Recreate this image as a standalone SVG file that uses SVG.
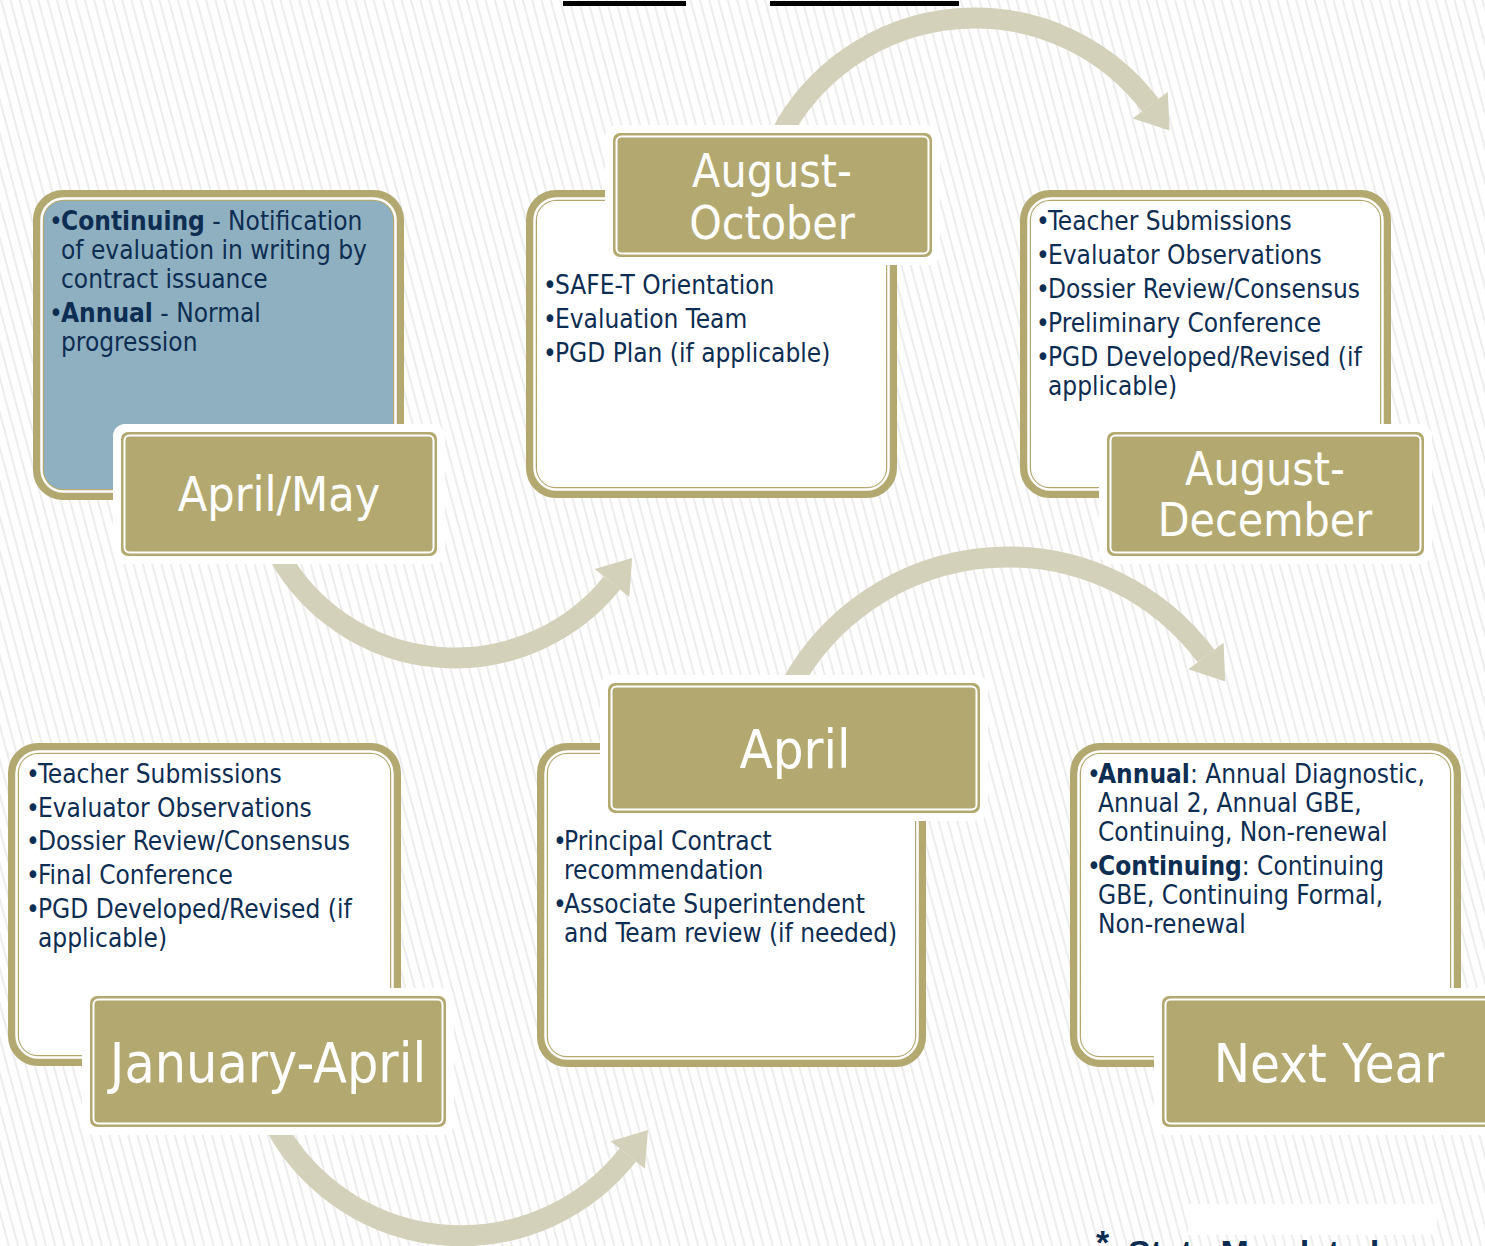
<svg xmlns="http://www.w3.org/2000/svg" width="1485" height="1246" viewBox="0 0 1485 1246">
<style>
.frame{fill:#ffffff;fill-opacity:0.9;stroke:#b3a970;stroke-width:11}
.frameblue{fill:#8fb0c1;stroke:#b3a970;stroke-width:11}
.inner{fill:none;stroke:#ffffff;stroke-width:2.5}
.halo{fill:#ffffff}
.lab{fill:#b3a970}
.labline{fill:none;stroke:#ffffff;stroke-width:2}
.body{font-family:"DejaVu Sans Condensed","DejaVu Sans",sans-serif;font-size:26px;fill:#0e2d52}
.b{font-weight:bold}
.title{font-family:"DejaVu Sans Condensed","DejaVu Sans",sans-serif;fill:#ffffff;text-anchor:middle}
.arc{fill:none;stroke:#d4d1ba;stroke-width:21}
.head{fill:#d4d1ba}
</style>
<defs>
<pattern id="bg" width="9" height="9" patternUnits="userSpaceOnUse" patternTransform="rotate(-15)">
<rect width="9" height="9" fill="#ffffff"/>
<rect width="2" height="9" fill="#ededed"/>
</pattern>
</defs>
<rect width="1485" height="1246" fill="url(#bg)"/>
<rect x="563" y="1" width="123" height="5" fill="#000"/>
<rect x="770" y="1" width="189" height="5" fill="#000"/>

<g id="connectors">
<path class="arc" d="M 280 557 A 202 202 0 0 0 612 583"/>
<polygon class="head" points="629.3,596.9 594.7,569.1 632.2,558"/>
<path class="arc" d="M 780.6 135 A 220 220 0 0 1 1150.3 105.1"/>
<polygon class="head" points="1167.8,91.8 1132.8,118.4 1169.6,130.6"/>
<path class="arc" d="M 791.3 685 A 247.5 247.5 0 0 1 1206 656"/>
<polygon class="head" points="1223.6,642.8 1188.4,669.2 1225.2,681.6"/>
<path class="arc" d="M 270 1115 A 212 212 0 0 0 627.8 1155"/>
<polygon class="head" points="644.9,1168.8 610.7,1141.2 648,1130"/>
</g>

<g id="node-april-may">
<rect class="frameblue" x="38.5" y="195.5" width="360" height="299" rx="24.5"/>
<rect class="inner" x="41.5" y="198.5" width="354" height="293" rx="22"/>
<text class="body" x="49" y="230">•</text>
<text class="body" x="61" y="230"><tspan class="b">Continuing</tspan> - Notification</text>
<text class="body" x="61" y="259">of evaluation in writing by</text>
<text class="body" x="61" y="288">contract issuance</text>
<text class="body" x="49" y="322">•</text>
<text class="body" x="61" y="322"><tspan class="b">Annual</tspan> - Normal</text>
<text class="body" x="61" y="351">progression</text>
<rect class="halo" x="113" y="424" width="332" height="140" rx="12"/>
<rect class="lab" x="121" y="432" width="316" height="124" rx="7"/>
<rect class="labline" x="124.5" y="435.5" width="309" height="117" rx="5"/>
<text class="title" x="279" y="511" font-size="48">April/May</text>
</g>

<g id="node-aug-oct">
<rect class="frame" x="531.5" y="195.5" width="360" height="297" rx="24.5"/>
<rect class="inner" x="534.5" y="198.5" width="354" height="291" rx="22"/>
<text class="body" x="543" y="294">•</text>
<text class="body" x="555" y="294">SAFE-T Orientation</text>
<text class="body" x="543" y="328">•</text>
<text class="body" x="555" y="328">Evaluation Team</text>
<text class="body" x="543" y="362">•</text>
<text class="body" x="555" y="362">PGD Plan (if applicable)</text>
<rect class="halo" x="605" y="125" width="335" height="140" rx="12"/>
<rect class="lab" x="613" y="133" width="319" height="124" rx="7"/>
<rect class="labline" x="616.5" y="136.5" width="312" height="117" rx="5"/>
<text class="title" x="772" y="187" font-size="46">August-</text>
<text class="title" x="772" y="239" font-size="46">October</text>
</g>

<g id="node-aug-dec">
<rect class="frame" x="1025.5" y="195.5" width="360" height="297" rx="24.5"/>
<rect class="inner" x="1028.5" y="198.5" width="354" height="291" rx="22"/>
<text class="body" x="1036" y="230">•</text>
<text class="body" x="1048" y="230">Teacher Submissions</text>
<text class="body" x="1036" y="264">•</text>
<text class="body" x="1048" y="264">Evaluator Observations</text>
<text class="body" x="1036" y="298">•</text>
<text class="body" x="1048" y="298">Dossier Review/Consensus</text>
<text class="body" x="1036" y="332">•</text>
<text class="body" x="1048" y="332">Preliminary Conference</text>
<text class="body" x="1036" y="366">•</text>
<text class="body" x="1048" y="366">PGD Developed/Revised (if</text>
<text class="body" x="1048" y="395">applicable)</text>
<rect class="halo" x="1099" y="424" width="333" height="140" rx="12"/>
<rect class="lab" x="1107" y="432" width="317" height="124" rx="7"/>
<rect class="labline" x="1110.5" y="435.5" width="310" height="117" rx="5"/>
<text class="title" x="1265" y="485" font-size="46">August-</text>
<text class="title" x="1265" y="536" font-size="46">December</text>
</g>

<g id="node-jan-apr">
<rect class="frame" x="13.5" y="748.5" width="382" height="312" rx="24.5"/>
<rect class="inner" x="16.5" y="751.5" width="376" height="306" rx="22"/>
<text class="body" x="26" y="783">•</text>
<text class="body" x="38" y="783">Teacher Submissions</text>
<text class="body" x="26" y="817">•</text>
<text class="body" x="38" y="817">Evaluator Observations</text>
<text class="body" x="26" y="850">•</text>
<text class="body" x="38" y="850">Dossier Review/Consensus</text>
<text class="body" x="26" y="884">•</text>
<text class="body" x="38" y="884">Final Conference</text>
<text class="body" x="26" y="918">•</text>
<text class="body" x="38" y="918">PGD Developed/Revised (if</text>
<text class="body" x="38" y="947">applicable)</text>
<rect class="halo" x="82" y="988" width="372" height="147" rx="12"/>
<rect class="lab" x="90" y="996" width="356" height="131" rx="7"/>
<rect class="labline" x="93.5" y="999.5" width="349" height="124" rx="5"/>
<text class="title" x="268" y="1082" font-size="55">January-April</text>
</g>

<g id="node-april">
<rect class="frame" x="542.5" y="748.5" width="378" height="313" rx="24.5"/>
<rect class="inner" x="545.5" y="751.5" width="372" height="307" rx="22"/>
<text class="body" x="553" y="850">•</text>
<text class="body" x="564" y="850">Principal Contract</text>
<text class="body" x="564" y="879">recommendation</text>
<text class="body" x="553" y="913">•</text>
<text class="body" x="564" y="913">Associate Superintendent</text>
<text class="body" x="564" y="942">and Team review (if needed)</text>
<rect class="halo" x="600" y="675" width="388" height="146" rx="12"/>
<rect class="lab" x="608" y="683" width="372" height="130" rx="7"/>
<rect class="labline" x="611.5" y="686.5" width="365" height="123" rx="5"/>
<text class="title" x="795" y="768" font-size="54">April</text>
</g>

<g id="node-next-year">
<rect class="frame" x="1075.5" y="748.5" width="380" height="313" rx="24.5"/>
<rect class="inner" x="1078.5" y="751.5" width="374" height="307" rx="22"/>
<text class="body" x="1087" y="783">•</text>
<text class="body" x="1098" y="783"><tspan class="b">Annual</tspan>: Annual Diagnostic,</text>
<text class="body" x="1098" y="812">Annual 2, Annual GBE,</text>
<text class="body" x="1098" y="841">Continuing, Non-renewal</text>
<text class="body" x="1087" y="875">•</text>
<text class="body" x="1098" y="875"><tspan class="b">Continuing</tspan>: Continuing</text>
<text class="body" x="1098" y="904">GBE, Continuing Formal,</text>
<text class="body" x="1098" y="933">Non-renewal</text>
<rect class="halo" x="1154" y="988" width="360" height="147" rx="12"/>
<rect class="lab" x="1162" y="996" width="340" height="131" rx="7"/>
<rect class="labline" x="1165.5" y="999.5" width="333" height="124" rx="5"/>
<text class="title" x="1329" y="1082" font-size="54">Next Year</text>
</g>

<rect x="1188" y="1204" width="249" height="31" fill="#ffffff"/>
<text x="1096" y="1254" font-family="Liberation Sans, Arial, sans-serif" font-weight="bold" font-size="34" fill="#0e2d52">*</text>
<text x="1128" y="1264" font-family="Liberation Sans, Arial, sans-serif" font-weight="bold" font-size="34" fill="#0e2d52">State Mandated</text>
</svg>
